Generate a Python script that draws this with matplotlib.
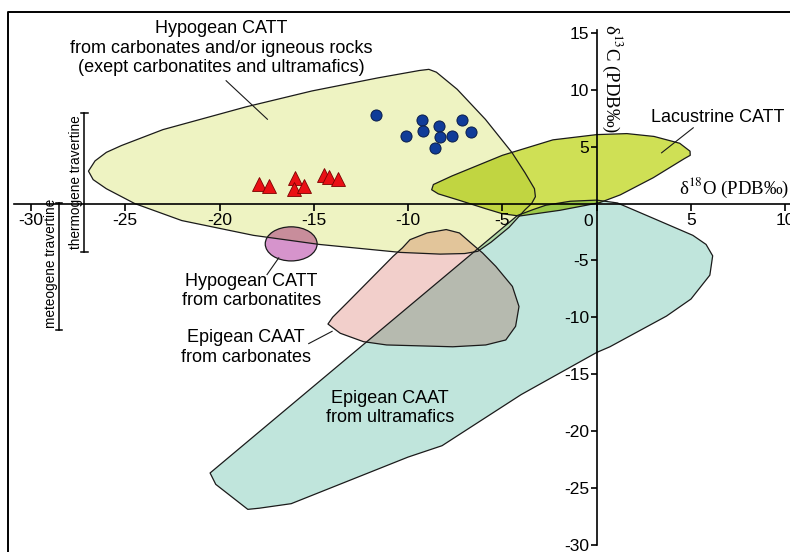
import matplotlib
matplotlib.use("Agg")
import matplotlib.pyplot as plt
from matplotlib.patches import Polygon, Ellipse
from matplotlib.colors import to_rgb

plt.rcParams['font.family'] = ['Liberation Sans', 'DejaVu Sans']
plt.rcParams['mathtext.fontset'] = 'stix'

# field outlines (d18O, d13C)
hypo_x = [-26.95, -26.6, -26.0, -25.2, -23.0, -18.6, -15.1, -11.6, -9.4, -8.9, -8.5, -7.4, -5.9, -4.5,
          -3.8, -3.3, -3.25, -3.45, -3.8, -4.65, -5.6, -6.3, -7.0, -8.3, -10.4, -14.7, -18.2, -22.0,
          -24.5, -26.0, -26.7]
hypo_y = [2.85, 3.75, 4.5, 5.1, 6.5, 8.5, 9.9, 11.05, 11.7, 11.8, 11.55, 10.05, 7.4, 4.5,
          2.7, 1.3, 0.6, 0.0, -0.55, -2.1, -3.4, -4.2, -4.4, -4.45, -4.3, -3.6, -2.8, -1.5,
          0.0, 1.3, 2.1]

lac_x = [-8.75, -8.66, -7.68, -5.0, -2.32, 0.0, 1.6, 3.04, 4.4, 4.95, 4.96, 4.64, 3.0, 1.25,
         0.18, -0.54, -1.96, -4.1, -5.0, -5.9, -7.32, -8.4]
lac_y = [1.21, 1.67, 2.42, 4.24, 5.6, 6.06, 6.15, 5.9, 5.3, 4.6, 4.24, 3.94, 2.27, 0.76,
         0.09, -0.15, -0.6, -1.1, -0.9, -0.45, 0.3, 0.85]

ultra_x = [-20.5, -4.2, -3.4, -2.7, -1.4, 0.0, 1.1, 3.0, 5.1, 5.8, 6.15, 6.0, 5.0, 3.7, 0.7, 0.0,
           -4.0, -8.2, -10.0, -16.2, -17.9, -18.5, -20.2]
ultra_y = [-23.7, -1.05, -0.55, -0.15, 0.2, 0.3, 0.05, -1.3, -2.8, -3.6, -4.6, -6.3, -8.4, -9.9,
           -12.6, -13.1, -16.8, -21.3, -22.3, -26.4, -26.8, -26.9, -24.7]

carb_x = [-9.9, -9.0, -7.98, -7.28, -6.58, -6.05, -5.35, -4.47, -4.12, -4.3, -4.82, -5.88, -7.63,
          -11.14, -12.37, -13.6, -14.25, -14.0, -13.25, -12.2, -10.8, -10.3]
carb_y = [-3.18, -2.59, -2.29, -2.59, -3.6, -4.35, -5.53, -7.29, -9.06, -10.8, -12.0, -12.44, -12.6,
          -12.44, -12.15, -11.41, -10.6, -10.0, -8.76, -7.0, -4.65, -3.9]

carbonatite_center = (-16.2, -3.55)
carbonatite_size = (2.75, 3.0)

# samples
circle_x = [-11.71, -9.27, -9.22, -10.09, -8.34, -8.31, -8.57, -7.65, -7.13, -6.66]
circle_y = [7.79, 7.35, 6.38, 5.94, 6.82, 5.85, 4.91, 5.94, 7.35, 6.32]
tri_x = [-17.9, -17.36, -15.98, -16.03, -15.51, -14.48, -14.2, -13.74]
tri_y = [1.68, 1.5, 2.22, 1.24, 1.5, 2.48, 2.35, 2.12]

x_ticks = [-30, -25, -20, -15, -10, -5, 0, 5, 10]
y_ticks = [-30, -25, -20, -15, -10, -5, 5, 10, 15]

c_hypo = '#eef3c2'
c_lac = '#cfe055'
c_ultra = '#c0e5dc'
c_carb = '#f2cfcb'
c_cite = '#d694cc'
edge = '#1a1a1a'


def mult(a, b):
    return tuple(p * q for p, q in zip(to_rgb(a), to_rgb(b)))


fig = plt.figure(figsize=(7.9, 5.52), dpi=100)
ax = fig.add_axes([0, 0, 1, 1])
ax.set_xlim(-31.64, 10.25)
ax.set_ylim(-30.65, 17.9)

shapes = {}
for name, xs, ys, col in [('hypo', hypo_x, hypo_y, c_hypo), ('ultra', ultra_x, ultra_y, c_ultra),
                          ('carb', carb_x, carb_y, c_carb), ('lac', lac_x, lac_y, c_lac)]:
    p = Polygon(list(zip(xs, ys)), closed=True, facecolor=col, edgecolor='none', zorder=1)
    ax.add_patch(p)
    shapes[name] = (list(zip(xs, ys)), col, p)

el = Ellipse(carbonatite_center, *carbonatite_size, facecolor=c_cite, edgecolor='none', zorder=1)
ax.add_patch(el)

# overlaps darken like stacked transparencies
pairs = [('lac', 'hypo'), ('carb', 'hypo'), ('lac', 'ultra'), ('hypo', 'ultra'), ('carb', 'ultra')]
for a, b in pairs:
    pts, col, _ = shapes[a]
    ov = Polygon(pts, closed=True, facecolor=mult(col, shapes[b][1]), edgecolor='none', zorder=1.2)
    ax.add_patch(ov)
    ov.set_clip_path(shapes[b][2])
ov = Ellipse(carbonatite_center, *carbonatite_size, facecolor=mult(c_cite, c_hypo),
             edgecolor='none', zorder=1.2)
ax.add_patch(ov)
ov.set_clip_path(shapes['hypo'][2])

for name in ['hypo', 'ultra', 'carb', 'lac']:
    ax.add_patch(Polygon(shapes[name][0], closed=True, fill=False, edgecolor=edge, lw=0.9,
                         joinstyle='round', zorder=1.5))
ax.add_patch(Ellipse(carbonatite_center, *carbonatite_size, fill=False, edgecolor=edge, lw=0.9, zorder=1.5))

ax.plot(circle_x, circle_y, 'o', ms=8, mfc='#103c98', mec='#0a1d4a', mew=0.7, zorder=4)
ax.plot(tri_x, tri_y, '^', ms=9.5, mfc='#ea0f14', mec='#7a0000', mew=0.6, zorder=4)

# axes through the origin
for s in ['top', 'right']:
    ax.spines[s].set_visible(False)
ax.spines['left'].set_position(('data', 0))
ax.spines['bottom'].set_position(('data', 0))
ax.spines['left'].set_bounds(-30, 15.3)
ax.spines['bottom'].set_bounds(-30.9, 10.25)
for s in ['left', 'bottom']:
    ax.spines[s].set_linewidth(1.2)
    ax.spines[s].set_zorder(3)
ax.set_xticks(x_ticks)
ax.set_xticklabels(['' if v == 0 else str(v) for v in x_ticks])
ax.set_yticks(y_ticks)
ax.set_yticklabels([str(v) for v in y_ticks])
ax.tick_params(axis='x', direction='out', length=5, width=1.2, pad=1.5, labelsize=12.5)
ax.tick_params(axis='y', direction='out', length=4.5, width=1.2, pad=1, labelsize=12.5)
ax.text(-0.45, -0.95, '0', ha='center', va='top', fontsize=12.5)

ax.text(7.28, 1.36, 'δ$^{18}$O (PDB‰)', family='Liberation Serif', fontsize=13.5,
        ha='center', va='center')
ax.text(0.8, 11.0, 'δ$^{13}$C (PDB‰)', family='Liberation Serif', fontsize=13.5,
        ha='center', va='center', rotation=-90)

# field labels and leaders
lab = dict(fontsize=13, ha='center', va='center', linespacing=1.2, zorder=5)
ax.text(-19.9, 13.65, 'Hypogean CATT\nfrom carbonates and/or igneous rocks\n'
        '(exept carbonatites and ultramafics)', **lab)
ax.text(6.4, 7.6, 'Lacustrine CATT', **lab)
ax.text(-18.3, -7.68, 'Hypogean CATT\nfrom carbonatites', **lab)
ax.text(-18.6, -12.67, 'Epigean CAAT\nfrom carbonates', **lab)
ax.text(-10.98, -18.0, 'Epigean CAAT\nfrom ultramafics', **lab)
for (x0, y0), (x1, y1) in [((-19.65, 10.8), (-17.46, 7.41)), ((5.12, 6.66), (3.44, 4.46)),
                           ((-17.48, -6.25), (-16.86, -4.78)), ((-15.27, -12.32), (-14.03, -11.24))]:
    ax.plot([x0, x1], [y0, y1], color=edge, lw=0.8, zorder=5)

# travertine ranges
for bx, (b0, b1), tx, ty, txt in [(-27.16, (-4.24, 7.93), -27.62, 1.85, 'thermogene travertine'),
                                  (-28.5, (-11.13, 0.02), -28.94, -5.23, 'meteogene travertine')]:
    ax.plot([bx, bx], [b0, b1], color='k', lw=1.1, zorder=5)
    for b in (b0, b1):
        ax.plot([bx - 0.17, bx + 0.17], [b, b], color='k', lw=1.1, zorder=5)
    ax.text(tx, ty, txt, rotation=90, fontsize=9.8, ha='center', va='center', zorder=5)

# outer frame
ax.plot([8 / 790, 8 / 790, 1], [0, 1 - 12 / 552, 1 - 12 / 552], color='k', lw=1.4,
        transform=ax.transAxes, clip_on=False)

fig.savefig('out.png', dpi=100)
